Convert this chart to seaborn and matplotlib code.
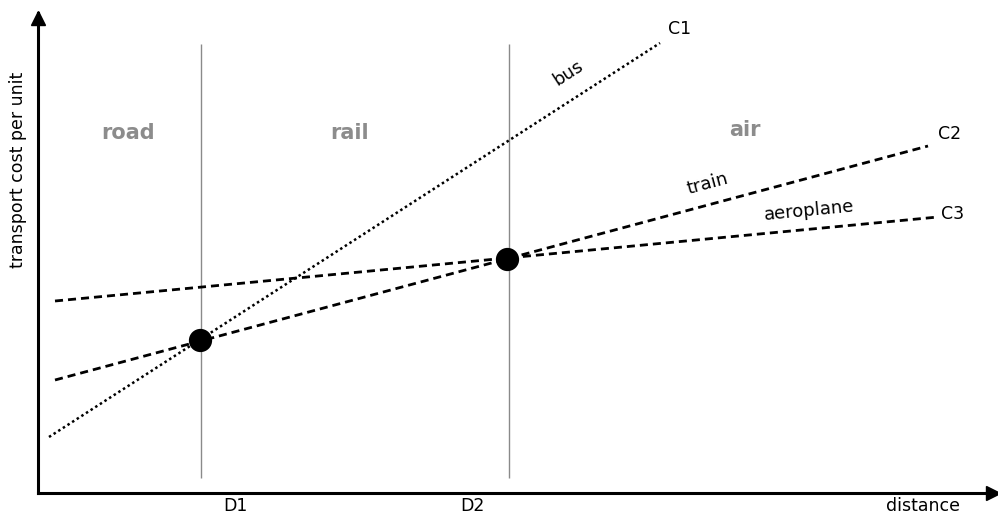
import pandas as pd
import seaborn as sns
import matplotlib.pyplot as plt

# --- data (distance, cost) ---
bus_x = [11, 622]
bus_y = [56, 450]
train_x = [17, 890]
train_y = [113, 347]
plane_x = [17, 900]
plane_y = [192, 276]

# break-even points and distance markers
dots_x = [162, 469]
dots_y = [153, 234]
dist_x = [163, 471]
dist_labels = ["D1", "D2"]

zone_names = ["road", "rail", "air"]
zone_x = [90, 312, 707]
zone_y = [360, 360, 363]

sns.set_theme(style="white")
plt.rcParams['font.family'] = ['DejaVu Sans']
plt.rcParams['text.color'] = 'black'

fig = plt.figure(figsize=(9.98, 5.16), dpi=100)
ax = fig.add_axes([38 / 998, 23 / 516, 960 / 998, 480 / 516])
ax.set_xlim(0, 960)
ax.set_ylim(0, 480)

# vertical zone borders
ax.vlines(dist_x, 15, 449, color="#8a8a8a", lw=1.0)

# cost curves
df_bus = pd.DataFrame({"x": bus_x, "y": bus_y})
df_train = pd.DataFrame({"x": train_x, "y": train_y})
df_plane = pd.DataFrame({"x": plane_x, "y": plane_y})
sns.lineplot(data=df_bus, x="x", y="y", ax=ax, color="black", lw=1.8,
             linestyle=(0, (1, 1.2)))
sns.lineplot(data=df_train, x="x", y="y", ax=ax, color="black", lw=2.0,
             linestyle=(0, (2.9, 1.8)))
sns.lineplot(data=df_plane, x="x", y="y", ax=ax, color="black", lw=2.0,
             linestyle=(0, (2.9, 1.8)))

sns.scatterplot(x=dots_x, y=dots_y, ax=ax, s=240, color="black",
                edgecolor="black", zorder=5)

# curve labels
ax.text(530, 420, "bus", rotation=32.8, fontsize=13, ha="center", va="center")
ax.text(670, 309, "train", rotation=15, fontsize=13, ha="center", va="center")
ax.text(771, 282, "aeroplane", rotation=5.5, fontsize=13, ha="center", va="center")
ax.text(642, 464, "C1", fontsize=12.5, ha="center", va="center")
ax.text(912, 359, "C2", fontsize=12.5, ha="center", va="center")
ax.text(915, 279, "C3", fontsize=12.5, ha="center", va="center")

for name, zx, zy in zip(zone_names, zone_x, zone_y):
    ax.text(zx, zy, name, fontsize=15, fontweight="bold", color="#8c8c8c",
            ha="center", va="center")

for dx, lab in zip([197, 434], dist_labels):
    ax.text(dx, -13, lab, fontsize=12.5, ha="center", va="center")

ax.text(885, -13, "distance", fontsize=12.5, ha="center", va="center")
ax.text(-20, 323, "transport cost per unit", fontsize=12.5, rotation=90,
        ha="center", va="center")

# axes with arrows
ax.set_xticks([])
ax.set_yticks([])
for side in ["top", "right"]:
    ax.spines[side].set_visible(False)
for side in ["left", "bottom"]:
    ax.spines[side].set_color("black")
    ax.spines[side].set_linewidth(2.2)
ax.set_xlabel("")
ax.set_ylabel("")
ax.plot([955], [0], marker=">", color="black", ms=10, clip_on=False)
ax.plot([0], [475], marker="^", color="black", ms=10, clip_on=False)

fig.savefig("out.png", dpi=100)
